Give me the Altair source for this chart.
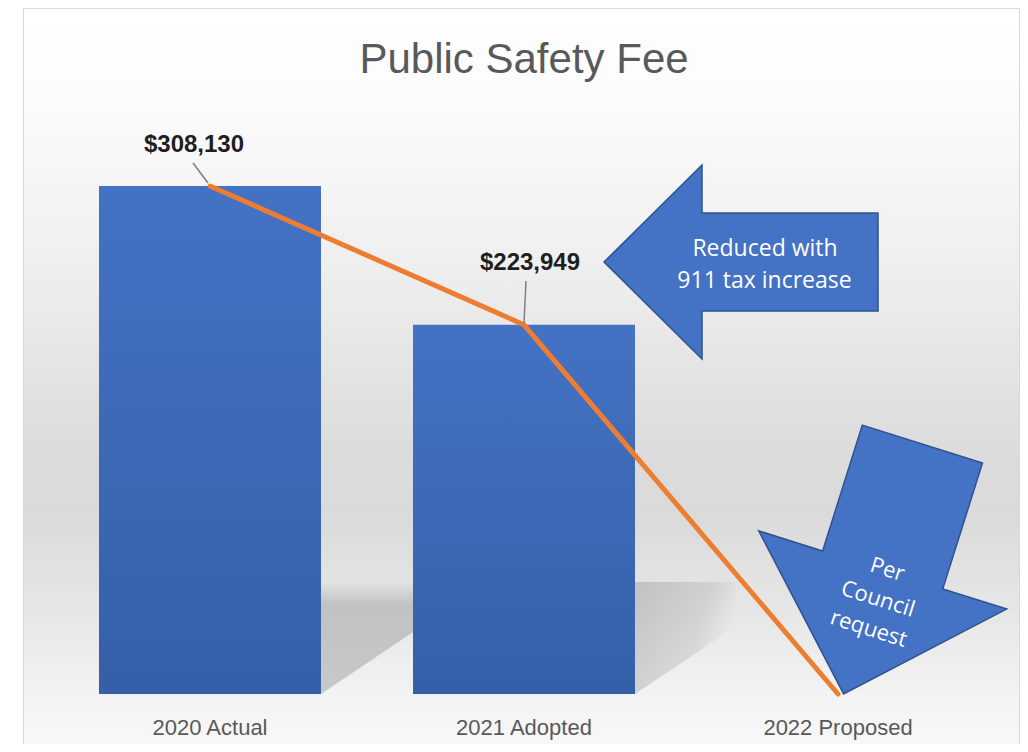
import altair as alt
import pandas as pd

# ---- data ----
categories = ["2020 Actual", "2021 Adopted", "2022 Proposed"]
fee_values = [308130, 223949, 0]
value_labels = ["$308,130", "$223,949", ""]

title_text = "Public Safety Fee"
arrow1_lines = ["Reduced with", "911 tax increase"]
arrow2_lines = ["Per", "Council", "request"]

W, H = 1012, 686

df = pd.DataFrame({"category": categories, "value": fee_values, "label": value_labels})
one = pd.DataFrame({"k": [0]})

x_enc = alt.X(
    "category:N",
    sort=categories,
    scale=alt.Scale(range=[45, 987], paddingInner=0.293, paddingOuter=0.1465),
    axis=alt.Axis(
        title=None, ticks=False, tickSize=0, domain=False, grid=False,
        labelPadding=23, labelFont="Liberation Sans", labelFontSize=22,
        labelColor="#595959", labelAngle=0, zindex=2,
    ),
)
y_enc = alt.Y("value:Q", scale=alt.Scale(domain=[0, 416100], nice=False, zero=True), axis=None)

bg_grad = {
    "gradient": "linear", "x1": 0, "y1": 0, "x2": 0, "y2": 1,
    "stops": [
        {"offset": 0.0, "color": "#ffffff"},
        {"offset": 0.12, "color": "#fbfbfb"},
        {"offset": 0.33, "color": "#eeeeee"},
        {"offset": 0.55, "color": "#dcdcdc"},
        {"offset": 0.63, "color": "#dadada"},
        {"offset": 0.75, "color": "#e6e6e6"},
        {"offset": 0.87, "color": "#f4f4f4"},
        {"offset": 1.0, "color": "#fcfcfc"},
    ],
}
background = alt.Chart(one).mark_rect(fill=bg_grad, stroke="#d9d9d9", strokeWidth=1).encode(
    x=alt.value(15.5), x2=alt.value(1011.5), y=alt.value(0.5), y2=alt.value(800)
)

shadow_grad = {
    "gradient": "linear", "x1": 0, "y1": 0, "x2": 0, "y2": 1,
    "stops": [
        {"offset": 0.0, "color": "rgba(140,140,140,0)"},
        {"offset": 0.2, "color": "rgba(140,140,140,0.40)"},
        {"offset": 1.0, "color": "rgba(140,140,140,0.42)"},
    ],
}
shadow_grad2 = {
    "gradient": "linear", "x1": 0, "y1": 0, "x2": 1, "y2": 0.3,
    "stops": [
        {"offset": 0.0, "color": "rgba(140,140,140,0.38)"},
        {"offset": 0.7, "color": "rgba(140,140,140,0.22)"},
        {"offset": 1.0, "color": "rgba(140,140,140,0)"},
    ],
}
shadow1 = alt.Chart(one).mark_point(shape="M 0 -112 L 119 -112 L 119 -80 L 0 0 Z", size=4, filled=True,
                                    fill=shadow_grad, strokeWidth=0, opacity=1).encode(x=alt.value(313), y=alt.value(686))
shadow2 = alt.Chart(one).mark_point(shape="M 0 -112 L 100 -112 L 100 -67 L 0 0 Z", size=4, filled=True,
                                    fill=shadow_grad2, strokeWidth=0, opacity=1).encode(x=alt.value(627), y=alt.value(686))

bar_grad = {
    "gradient": "linear", "x1": 0, "y1": 0, "x2": 0, "y2": 1,
    "stops": [{"offset": 0, "color": "#4472C4"}, {"offset": 1, "color": "#3560A8"}],
}
bars = alt.Chart(df).mark_bar(fill=bar_grad).encode(x=x_enc, y=y_enc)

line = alt.Chart(df).mark_line(color="#ED7D31", strokeWidth=5, strokeCap="round", strokeJoin="round").encode(
    x=x_enc, y=y_enc
)

leader1 = alt.Chart(one).mark_rule(color="#7f7f7f", strokeWidth=1.5).encode(
    x=alt.value(185), y=alt.value(155), x2=alt.value(200), y2=alt.value(175)
)
leader2 = alt.Chart(one).mark_rule(color="#7f7f7f", strokeWidth=1.5).encode(
    x=alt.value(518), y=alt.value(273), x2=alt.value(516), y2=alt.value(315)
)

lab1 = alt.Chart(df).transform_filter(alt.datum.category == categories[0]).mark_text(
    font="Liberation Sans", fontWeight="bold", fontSize=24, color="#1f1f1f",
    dx=-16, dy=-34, baseline="alphabetic", align="center"
).encode(x=x_enc, y=y_enc, text="label:N")
lab2 = alt.Chart(df).transform_filter(alt.datum.category == categories[1]).mark_text(
    font="Liberation Sans", fontWeight="bold", fontSize=24, color="#1f1f1f",
    dx=6, dy=-55, baseline="alphabetic", align="center"
).encode(x=x_enc, y=y_enc, text="label:N")

arrow1 = alt.Chart(one).mark_point(
    shape="M -137 0 L -39 -97 L -39 -49 L 137 -49 L 137 49 L -39 49 L -39 97 Z",
    size=4, filled=True, fill="#4472C4", stroke="#2F528F", strokeWidth=1.5, opacity=1
).encode(x=alt.value(733), y=alt.value(254))

arrow1_t1 = alt.Chart(one).mark_text(
    text=arrow1_lines[0], font="Open Sans", fontSize=23, color="#ffffff", align="center", baseline="alphabetic"
).encode(x=alt.value(757), y=alt.value(248))
arrow1_t2 = alt.Chart(one).mark_text(
    text=arrow1_lines[1], font="Open Sans", fontSize=23, color="#ffffff", align="center", baseline="alphabetic"
).encode(x=alt.value(756.5), y=alt.value(280))

arrow2 = alt.Chart(one).mark_point(
    shape="M -63 -131 L 63 -131 L 63 1 L 130 1 L 0 131 L -130 1 L -63 1 Z",
    size=4, angle=17.5, filled=True, fill="#4472C4", stroke="#2F528F", strokeWidth=1.5, opacity=1
).encode(x=alt.value(875), y=alt.value(561))

arrow2_t = alt.Chart(one).mark_text(
    text=arrow2_lines, font="Open Sans", fontSize=22, color="#ffffff", align="center",
    baseline="middle", lineHeight=31, angle=17.5
).encode(x=alt.value(879.4), y=alt.value(561.5))

title = alt.Chart(one).mark_text(
    text=title_text, font="Liberation Sans", fontSize=42, color="#595959", align="center", baseline="alphabetic"
).encode(x=alt.value(516), y=alt.value(65))

chart = alt.layer(
    background, shadow1, shadow2, bars, line, leader1, leader2, lab1, lab2,
    arrow1, arrow1_t1, arrow1_t2, arrow2, arrow2_t, title
).properties(
    width=W, height=H,
    padding={"left": 0, "top": 0, "right": 0, "bottom": 50},
    autosize=alt.AutoSizeParams(type="none"),
).configure_view(stroke=None)

chart.save("out.html", embed_options={"renderer": "svg", "actions": False})
